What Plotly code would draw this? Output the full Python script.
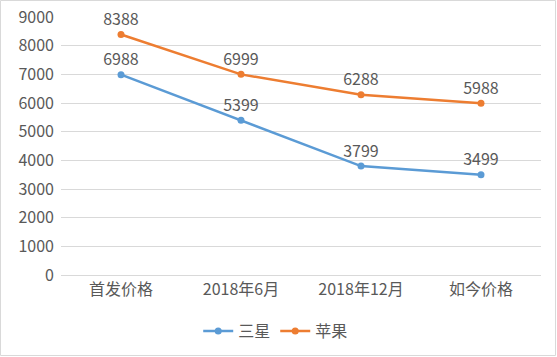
import plotly.graph_objects as go

categories = ["首发价格", "2018年6月", "2018年12月", "如今价格"]
samsung = [6988, 5399, 3799, 3499]
apple = [8388, 6999, 6288, 5988]
y_ticks = [0, 1000, 2000, 3000, 4000, 5000, 6000, 7000, 8000, 9000]

W, H = 557, 357
L, R, T, B = 61, 16, 17, 82
pw, ph = W - L - R, H - T - B

font = dict(family="Noto Sans CJK SC, Microsoft YaHei, sans-serif", size=16, color="#595959")

fig = go.Figure()
fig.add_trace(go.Scatter(
    x=categories, y=samsung, name="三星", mode="lines+markers+text",
    line=dict(color="#5B9BD5", width=2.5), marker=dict(size=7, color="#5B9BD5"),
    text=[str(v) for v in samsung], textposition="top center",
    textfont=font, cliponaxis=False))
fig.add_trace(go.Scatter(
    x=categories, y=apple, name="苹果", mode="lines+markers+text",
    line=dict(color="#ED7D31", width=2.5), marker=dict(size=7, color="#ED7D31"),
    text=[str(v) for v in apple], textposition="top center",
    textfont=font, cliponaxis=False))

fig.update_layout(
    width=W, height=H,
    margin=dict(l=L, r=R, t=T, b=B, autoexpand=False),
    paper_bgcolor="white", plot_bgcolor="white",
    font=font,
    showlegend=True,
    legend=dict(orientation="h", xref="container", x=0.495, xanchor="center",
                yref="container", y=(H - 331) / H, yanchor="middle",
                font=font, itemwidth=30, tracegroupgap=0),
    xaxis=dict(type="category", range=[-0.5, 3.5], showgrid=False, automargin=False,
               showline=True, linecolor="#D9D9D9", linewidth=1, ticks="",
               tickfont=font),
    yaxis=dict(range=[0, 9000], tickvals=y_ticks, showgrid=True, gridcolor="#D9D9D9",
               gridwidth=1, zeroline=False, showline=False, ticks="", tickfont=font,
               automargin=False, ticklabelstandoff=6),
    shapes=[dict(type="rect", xref="paper", yref="paper",
                 x0=-(L - 0.5) / pw, x1=1 + (R - 1.5) / pw,
                 y0=-(B - 1.5) / ph, y1=1 + (T - 0.5) / ph,
                 line=dict(color="#D9D9D9", width=1), layer="below")],
)

fig.write_html("out.html", config={"displayModeBar": False},
               post_script="document.body.style.margin='0';")
